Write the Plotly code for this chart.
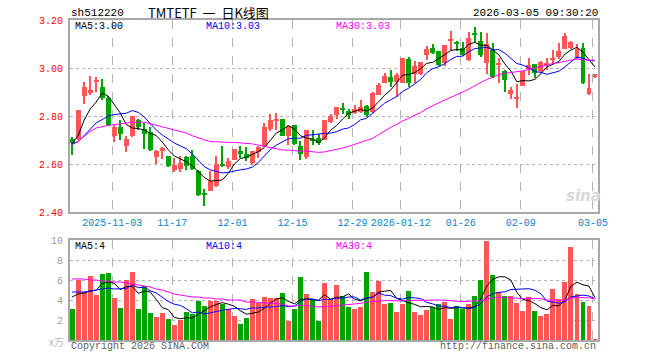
import plotly.graph_objects as go

# ---------------- data ----------------
dates = [
    "2025-10-23", "2025-10-24", "2025-10-27", "2025-10-28", "2025-10-29", "2025-10-30", "2025-10-31",
    "2025-11-03", "2025-11-04", "2025-11-05", "2025-11-06", "2025-11-07", "2025-11-10", "2025-11-11",
    "2025-11-12", "2025-11-13", "2025-11-14", "2025-11-17", "2025-11-18", "2025-11-19", "2025-11-20",
    "2025-11-21", "2025-11-24", "2025-11-25", "2025-11-26", "2025-11-27", "2025-11-28", "2025-12-01",
    "2025-12-02", "2025-12-03", "2025-12-04", "2025-12-05", "2025-12-08", "2025-12-09", "2025-12-10",
    "2025-12-11", "2025-12-12", "2025-12-15", "2025-12-16", "2025-12-17", "2025-12-18", "2025-12-19",
    "2025-12-22", "2025-12-23", "2025-12-24", "2025-12-25", "2025-12-26", "2025-12-29", "2025-12-30",
    "2025-12-31", "2026-01-05", "2026-01-06", "2026-01-07", "2026-01-08", "2026-01-09", "2026-01-12",
    "2026-01-13", "2026-01-14", "2026-01-15", "2026-01-16", "2026-01-19", "2026-01-20", "2026-01-21",
    "2026-01-22", "2026-01-23", "2026-01-26", "2026-01-27", "2026-01-28", "2026-01-29", "2026-01-30",
    "2026-02-02", "2026-02-03", "2026-02-04", "2026-02-05", "2026-02-06", "2026-02-09", "2026-02-10",
    "2026-02-11", "2026-02-12", "2026-02-13", "2026-02-24", "2026-02-25", "2026-02-26", "2026-02-27",
    "2026-03-02", "2026-03-03", "2026-03-04", "2026-03-05",
]

opens = [
    2.705, 2.704, 2.882, 2.896, 2.942, 2.921, 2.875, 2.718, 2.756, 2.674,
    2.715, 2.785, 2.747, 2.735, 2.628, 2.653, 2.635, 2.576, 2.581, 2.628,
    2.635, 2.572, 2.478, 2.486, 2.507, 2.601, 2.587, 2.618, 2.656, 2.643,
    2.604, 2.649, 2.674, 2.747, 2.783, 2.789, 2.718, 2.764, 2.676, 2.628,
    2.704, 2.707, 2.701, 2.774, 2.803, 2.832, 2.821, 2.811, 2.818, 2.840,
    2.818, 2.888, 2.939, 2.963, 2.943, 2.939, 3.036, 2.974, 2.974, 3.053,
    3.085, 3.071, 3.022, 3.113, 3.103, 3.085, 3.032, 3.144, 3.113, 3.022,
    3.074, 3.015, 2.988, 2.890, 2.874, 2.925, 2.994, 3.018, 2.987, 3.015,
    3.037, 3.046, 3.081, 3.082, 3.043, 3.082, 2.893, 2.962,
]
highs = [
    2.712, 2.826, 2.940, 2.968, 2.962, 2.954, 2.882, 2.764, 2.785, 2.718,
    2.801, 2.788, 2.771, 2.753, 2.660, 2.671, 2.635, 2.625, 2.632, 2.632,
    2.660, 2.576, 2.496, 2.569, 2.635, 2.676, 2.625, 2.664, 2.674, 2.671,
    2.656, 2.674, 2.771, 2.810, 2.812, 2.789, 2.764, 2.764, 2.694, 2.743,
    2.743, 2.725, 2.782, 2.810, 2.839, 2.856, 2.828, 2.846, 2.867, 2.846,
    2.901, 2.939, 2.981, 2.992, 2.978, 3.043, 3.046, 3.029, 3.026, 3.092,
    3.101, 3.071, 3.094, 3.154, 3.112, 3.108, 3.151, 3.171, 3.151, 3.144,
    3.106, 3.040, 2.990, 2.921, 2.935, 2.987, 3.040, 3.018, 3.029, 3.040,
    3.076, 3.106, 3.147, 3.113, 3.101, 3.106, 2.974, 2.976,
]
lows = [
    2.638, 2.700, 2.851, 2.889, 2.899, 2.868, 2.757, 2.690, 2.701, 2.649,
    2.712, 2.743, 2.662, 2.653, 2.601, 2.621, 2.587, 2.565, 2.565, 2.576,
    2.576, 2.465, 2.426, 2.486, 2.503, 2.587, 2.579, 2.615, 2.625, 2.611,
    2.597, 2.625, 2.671, 2.736, 2.743, 2.715, 2.681, 2.681, 2.618, 2.621,
    2.681, 2.681, 2.699, 2.771, 2.786, 2.807, 2.789, 2.807, 2.811, 2.796,
    2.814, 2.888, 2.939, 2.922, 2.879, 2.936, 2.921, 2.939, 2.971, 3.032,
    3.057, 3.008, 3.008, 3.071, 3.071, 3.050, 3.029, 3.106, 3.046, 2.976,
    2.960, 2.939, 2.901, 2.869, 2.835, 2.925, 2.971, 2.960, 2.981, 2.990,
    3.015, 3.036, 3.078, 3.078, 3.036, 2.932, 2.887, 2.960,
]
closes = [
    2.688, 2.826, 2.921, 2.910, 2.945, 2.875, 2.764, 2.756, 2.725, 2.704,
    2.801, 2.753, 2.725, 2.657, 2.656, 2.667, 2.590, 2.597, 2.604, 2.590,
    2.579, 2.472, 2.474, 2.528, 2.600, 2.594, 2.614, 2.664, 2.643, 2.625,
    2.656, 2.669, 2.753, 2.785, 2.785, 2.718, 2.757, 2.685, 2.643, 2.740,
    2.694, 2.686, 2.782, 2.801, 2.839, 2.828, 2.804, 2.828, 2.839, 2.803,
    2.897, 2.929, 2.967, 2.943, 2.971, 3.043, 2.939, 3.008, 3.026, 3.081,
    3.064, 3.011, 3.094, 3.115, 3.101, 3.054, 3.126, 3.139, 3.054, 3.101,
    2.963, 3.019, 2.949, 2.907, 2.875, 2.987, 3.012, 2.981, 3.025, 3.019,
    3.040, 3.071, 3.133, 3.110, 3.078, 2.936, 2.918, 2.975,
]
# volume, in units of 万 (x10^4)
volumes = [
    3.1, 6.0, 4.8, 6.4, 4.5, 6.6, 6.7, 4.2, 3.2, 6.0,
    6.8, 3.1, 5.4, 2.7, 2.3, 2.7, 2.1, 1.5, 2.0, 2.8,
    2.6, 3.9, 3.4, 3.9, 3.9, 3.6, 3.1, 2.4, 1.6, 2.2,
    4.1, 3.7, 4.3, 4.2, 4.2, 4.7, 1.9, 3.1, 6.3, 4.6,
    4.1, 1.9, 5.7, 4.1, 5.5, 4.4, 3.3, 3.1, 3.3, 6.8,
    4.8, 5.9, 3.6, 3.7, 2.8, 3.6, 4.9, 2.8, 2.5, 3.0,
    3.3, 3.6, 3.8, 2.1, 3.4, 3.1, 3.6, 4.4, 6.0, 9.9,
    6.5, 4.8, 4.4, 4.4, 3.7, 2.9, 4.3, 2.9, 2.4, 2.6,
    5.1, 4.1, 5.8, 9.3, 4.6, 3.8, 3.4, 0.1,
]

# moving-average values before a full window exists
ma5_head = [2.685, 2.718, 2.782, 2.829]
ma10_head = [2.683, 2.694, 2.718, 2.743, 2.771, 2.785, 2.800, 2.806, 2.810]
ma30_head = [2.680, 2.694, 2.715, 2.736, 2.750, 2.757, 2.761, 2.764, 2.768, 2.771,
             2.774, 2.775, 2.774, 2.768, 2.761, 2.757, 2.750, 2.743, 2.736, 2.729,
             2.718, 2.708, 2.700, 2.694, 2.692, 2.690, 2.690, 2.690, 2.688]
vma5_head = [4.3, 4.6, 4.7, 4.9]
vma10_head = [4.8, 4.8, 4.8, 4.9, 5.0, 5.1, 5.2, 5.1, 5.1]
vma30_head = [6.1, 6.1, 6.1, 6.0, 6.0, 5.9, 5.9, 5.8, 5.8, 5.7,
              5.6, 5.5, 5.4, 5.3, 5.1, 5.0, 4.8, 4.6, 4.5, 4.4,
              4.3, 4.3, 4.2, 4.2, 4.1, 4.1, 4.0, 4.0, 4.0]

tick_dates = ["2025-11-03", "2025-11-17", "2025-12-01", "2025-12-15", "2025-12-29",
              "2026-01-12", "2026-01-26", "2026-02-09", "2026-03-05"]
tick_labels = ["2025-11-03", "11-17", "12-01", "12-15", "12-29",
               "2026-01-12", "01-26", "02-09", "03-05"]

header_left = "sh512220"
header_title = "TMTETF\u00a0\u00a0一\u00a0\u00a0日K线图"
header_time = "2026-03-05 09:30:20"

# ---------------- helpers ----------------
def moving_avg(vals, n, head):
    out = list(head)
    for i in range(n - 1, len(vals)):
        out.append(sum(vals[i - n + 1:i + 1]) / n)
    return out

idx = list(range(len(dates)))
RED = "#ff5555"
GREEN = "#00a400"
colors = [RED if c >= o else GREEN for o, c in zip(opens, closes)]

ma5 = moving_avg(closes, 5, ma5_head)
ma10 = moving_avg(closes, 10, ma10_head)
ma30 = moving_avg(closes, 30, ma30_head)
vma5 = moving_avg(volumes, 5, vma5_head)
vma10 = moving_avg(volumes, 10, vma10_head)
vma30 = moving_avg(volumes, 30, vma30_head)

MONO = "Liberation Mono, DejaVu Sans Mono, monospace"

fig = go.Figure()

# wicks
fig.add_trace(go.Bar(
    x=idx, base=lows, y=[h - l for h, l in zip(highs, lows)],
    width=0.17, marker=dict(color=colors, line=dict(width=0)),
    xaxis="x", yaxis="y", hoverinfo="skip", showlegend=False))
# bodies
fig.add_trace(go.Bar(
    x=idx, base=[min(o, c) for o, c in zip(opens, closes)],
    y=[max(abs(c - o), 0.0045) for o, c in zip(opens, closes)],
    width=0.82, marker=dict(color=colors, line=dict(width=0)),
    xaxis="x", yaxis="y", customdata=dates, showlegend=False))

for vals, col in [(ma5, "#000000"), (ma10, "#0000ff"), (ma30, "#ff00ff")]:
    fig.add_trace(go.Scatter(x=idx, y=vals, mode="lines",
                             line=dict(color=col, width=1),
                             xaxis="x", yaxis="y", showlegend=False, hoverinfo="skip"))

# volume
fig.add_trace(go.Bar(
    x=idx, y=volumes, width=0.82,
    marker=dict(color=colors, line=dict(width=0)),
    xaxis="x2", yaxis="y2", showlegend=False))
for vals, col in [(vma5, "#000000"), (vma10, "#0000ff"), (vma30, "#ff00ff")]:
    fig.add_trace(go.Scatter(x=idx, y=vals, mode="lines",
                             line=dict(color=col, width=1),
                             xaxis="x2", yaxis="y2", showlegend=False, hoverinfo="skip"))

tick_pos = [dates.index(d) - 1 / 3 for d in tick_dates]
frame = dict(showline=True, mirror=True, linecolor="#a8a8a8", linewidth=2, zeroline=False)
xr = [-0.35, 87.5]

L, R, T, B = 70, 62, 20, 20
W, H = 660, 360
PW, PH = W - L - R, H - T - B


def px(x):
    return (x - L) / PW


def py(y):
    return (H - B - y) / PH


fig.update_layout(
    width=W, height=H,
    margin=dict(l=L, r=R, t=T, b=B),
    paper_bgcolor="white", plot_bgcolor="white",
    barmode="overlay", bargap=0,
    showlegend=False,
    xaxis=dict(domain=[0, 1], range=xr, anchor="y", tickmode="array",
               tickvals=tick_pos, ticktext=tick_labels, ticks="",
               tickfont=dict(family=MONO, size=10, color="#0a84c8"),
               showgrid=True, gridcolor="#b4b4b4", griddash="dash", gridwidth=1,
               **frame),
    yaxis=dict(domain=[py(212), 1], range=[2.4, 3.2], anchor="x", tickmode="array",
               tickvals=[2.4, 2.6, 2.8, 3.0, 3.2],
               ticktext=["%.2f" % v for v in [2.4, 2.6, 2.8, 3.0, 3.2]],
               ticks="", ticklabelstandoff=3,
               tickfont=dict(family=MONO, size=10, color="#ff0000"),
               showgrid=True, gridcolor="#b4b4b4", griddash="dot", gridwidth=1,
               **frame),
    xaxis2=dict(domain=[0, 1], range=xr, anchor="y2", tickmode="array",
                tickvals=tick_pos, showticklabels=False, ticks="",
                showgrid=True, gridcolor="#b4b4b4", griddash="dash", gridwidth=1,
                **frame),
    yaxis2=dict(domain=[0, py(240)], range=[0, 10], anchor="x2", tickmode="array",
                tickvals=[2, 4, 6, 8, 10], ticktext=["2", "4", "6", "8", "10"],
                ticks="", ticklabelstandoff=3,
                tickfont=dict(family=MONO, size=10, color="#a0a0a0"),
                showgrid=True, gridcolor="#b4b4b4", griddash="dot", gridwidth=1,
                **frame),
)


def note(text, x, y, color="#000000", xanchor="left", size=10, family=MONO, **kw):
    fig.add_annotation(text=text, x=px(x), y=py(y), xref="paper", yref="paper",
                       xanchor=xanchor, yanchor="middle", showarrow=False,
                       font=dict(family=family, size=size, color=color), **kw)


note(header_left, 69, 13, size=11)
note(header_title, 208, 13, xanchor="center", size=13, family="Noto Sans CJK SC")
note(header_time, 600, 13, xanchor="right", size=11)

note("MA5:%.2f" % ma5[-1], 73, 27)
note("MA10:%.2f" % ma10[-1], 204, 27, color="#0000ff")
note("MA30:%.2f" % ma30[-1], 334, 27, color="#ff00ff")

note("MA5:%d" % round(vma5[-1]), 73, 246)
note("MA10:%d" % round(vma10[-1]), 204, 246, color="#0000ff")
note("MA30:%d" % round(vma30[-1]), 334, 246, color="#ff00ff")

note("x万", 56, 341, color="#b8b8b8", xanchor="center", size=10, family="Noto Sans CJK SC")
note("Copyright 2026 SINA.COM", 69, 346, color="#606060")
note("http://finance.sina.com.cn", 598, 346, color="#606060", xanchor="right")
note("<i><b>sina</b></i>", 583, 196, color="#d8d8d8", xanchor="center", size=15,
     family="DejaVu Sans")

fig.write_html(
    "out.html",
    config={"displayModeBar": False},
    post_script="document.body.style.margin='0';document.body.style.overflow='hidden';",
)
